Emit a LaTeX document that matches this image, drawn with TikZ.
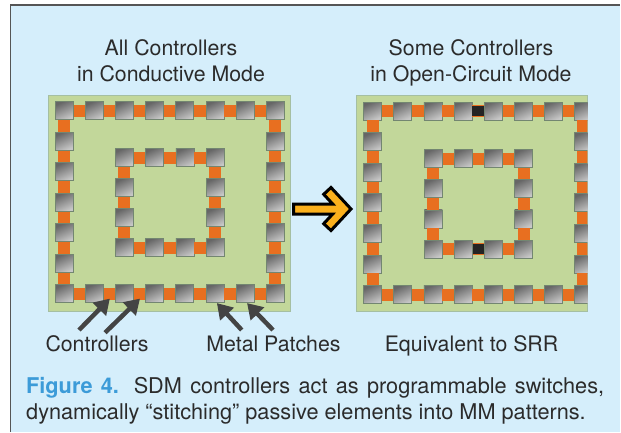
\documentclass[tikz,border=0pt]{standalone}
\usepackage{fontspec}
\setmainfont{TeX Gyre Heros}
\usetikzlibrary{shapes, arrows.meta, positioning}

\definecolor{panelblue}{HTML}{D5EEFB}
\definecolor{framegray}{HTML}{555555}
\definecolor{boardgreen}{HTML}{C2D79A}
\definecolor{boardedge}{HTML}{A5BFA2}
\definecolor{linkorange}{HTML}{E86F20}
\definecolor{openblack}{HTML}{242424}
\definecolor{pointergray}{HTML}{444444}
\definecolor{bigyellow}{HTML}{FBB01C}
\definecolor{inkgray}{HTML}{2B2B2B}
\definecolor{figblue}{HTML}{3C9BD8}

% one ring of patches: name, x0, y0, nx, ny, dx, dy
\newcommand{\patchring}[7]{
    \foreach \i in {0,...,#4} {
        \node (#1-\i-0) [patch] at ({#2+\i*#6},{#3}) {};
        \node (#1-\i-#5) [patch] at ({#2+\i*#6},{#3+#5*#7}) {};
    }
    \foreach \j in {0,...,#5} {
        \node (#1-0-\j) [patch] at ({#2},{#3+\j*#7}) {};
        \node (#1-#4-\j) [patch] at ({#2+#4*#6},{#3+\j*#7}) {};
    }
    \foreach \i in {1,...,#4} {
        \pgfmathtruncatemacro{\h}{\i-1}
        \draw [link] (#1-\h-0) -- (#1-\i-0);
        \draw [link] (#1-\h-#5) -- (#1-\i-#5);
    }
    \foreach \j in {1,...,#5} {
        \pgfmathtruncatemacro{\h}{\j-1}
        \draw [link] (#1-0-\h) -- (#1-0-\j);
        \draw [link] (#1-#4-\h) -- (#1-#4-\j);
    }
}

\begin{document}
\begin{tikzpicture}[x=1pt, y=-1pt]
    \tikzstyle{panel} = [fill=panelblue, draw=none]
    \tikzstyle{board} = [rectangle, fill=boardgreen, draw=boardedge, line width=0.8pt, inner sep=0pt]
    \tikzstyle{patch} = [rectangle, draw=black!30!boardedge, line width=0.8pt, inner sep=0pt, minimum size=18pt, left color=black!60, right color=black!22, shading angle=25]
    \tikzstyle{link} = [draw=linkorange, line width=12pt]
    \tikzstyle{openlink} = [draw=openblack, line width=10.5pt]
    \tikzstyle{pointer} = [draw=pointergray, line width=4.5pt, -{Triangle[length=15pt, width=18pt]}]
    \tikzstyle{bigarrow} = [draw=black, fill=bigyellow, line width=3pt, line join=miter]
    \tikzstyle{label} = [text=inkgray, inner sep=0pt, font=\fontsize{21.3}{26}\selectfont, align=center]

    \useasboundingbox (0,0) rectangle (621,432);
    \fill [white] (0,0) rectangle (621,432);
    \fill [panel] (10.5,5) rectangle (620,432);
    \draw [framegray, line width=1.2pt] (10.5,432) -- (10.5,5) -- (620,5);

    \node (leftboard) [board, minimum width=242pt, minimum height=216pt] at (169,203) {};
    \node (rightboard) [board, minimum width=231pt, minimum height=216pt] at (471.5,203) {};

    \patchring{lo}{64.3}{110.7}{7}{6}{30.14}{30.5}
    \patchring{li}{124.3}{157.7}{3}{3}{30.3}{30}

    \begin{scope}
        \clip (rightboard.south west) rectangle (rightboard.north east);
        \patchring{ro}{372.7}{111}{7}{6}{30.1}{30.6}
        \patchring{ri}{433.3}{158.7}{3}{3}{30.1}{30.1}
    \end{scope}
    \draw [openlink] (ro-3-0) -- (ro-4-0);
    \draw [openlink] (ri-1-3) -- (ri-2-3);

    \draw [bigarrow] (293.5,204) -- (332.7,204) -- (323.7,194.3) -- (331,187.5) -- (351,209) -- (331,230.5) -- (323.7,223.7) -- (332.7,214) -- (293.5,214) -- cycle;

    % Labels
    \node (lefttitle) [label, anchor=base] at (171,81) {All Controllers\\in Conductive Mode};
    \node (righttitle) [label, anchor=base] at (471,81) {Some Controllers\\in Open-Circuit Mode};
    \node (controllers) [label, anchor=base] at (97,351.7) {Controllers};
    \node (metal) [label, anchor=base] at (273.5,351.7) {Metal Patches};
    \node (equivalent) [label, anchor=base] at (471.5,351.7) {Equivalent to SRR};
    \node (caption) [text=inkgray, inner sep=0pt, text width=578pt, align=justify, anchor=north west, font=\fontsize{21.7}{26}\selectfont] at (26,377) {\textcolor{figblue}{\textbf{Figure 4.}} SDM controllers act as programmable switches,\linebreak dynamically “stitching” passive elements into MM patterns.};

    % Arrows
    \coordinate (ctrltailA) at (79,330);
    \coordinate (ctrltailB) at (105,332.7);
    \coordinate (metaltailA) at (241.7,330);
    \coordinate (metaltailB) at (273,330);
    \draw [pointer] (ctrltailA) -- ([xshift=6pt,yshift=4.5pt]lo-1-6.south east);
    \draw [pointer] (ctrltailB) -- ([xshift=6pt,yshift=4.5pt]lo-2-6.south east);
    \draw [pointer] (metaltailA) -- ([xshift=-7.5pt]lo-5-6.south east);
    \draw [pointer] (metaltailB) -- ([xshift=-7.5pt]lo-6-6.south east);
\end{tikzpicture}
\end{document}
